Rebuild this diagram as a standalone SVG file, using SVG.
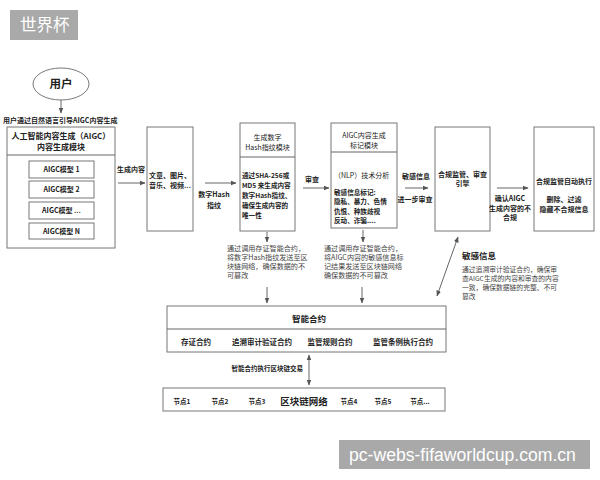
<svg xmlns="http://www.w3.org/2000/svg" width="600" height="480" viewBox="0 0 600 480">
<defs>
<style>
text{font-family:"Noto Sans CJK SC","Liberation Sans",sans-serif;fill:#222}
.b{font-weight:700}
.c{text-anchor:middle}
.s7{font-size:7px}
.s6{font-size:6.6px}
.s8{font-size:8px}
.d{font-size:7.1px;fill:#444}
.d2{font-size:6.8px;fill:#444}
.box{fill:#fff;stroke:#777;stroke-width:1}
.ln{fill:none;stroke:#666;stroke-width:1}
.wm{fill:#a9a9a9}
.wt{fill:#fff;font-family:"Liberation Sans","Noto Sans CJK SC",sans-serif}
</style>
<marker id="ah" viewBox="0 0 10 10" refX="9" refY="5" markerWidth="6" markerHeight="6" orient="auto-start-reverse" markerUnits="userSpaceOnUse">
<path d="M0,1 L10,5 L0,9 z" fill="#555"/>
</marker>
</defs>
<rect width="600" height="480" fill="#fff"/>

<g id="watermark-top">
<rect class="wm" x="10" y="10" width="68" height="30"/>
<text class="wt" x="20" y="31" font-size="16.5" font-family="Noto Sans CJK SC">世界杯</text>
</g>

<g id="user">
<ellipse cx="61" cy="84" rx="28" ry="16" fill="#fff" stroke="#777"/>
<text class="b c" x="61" y="88" font-size="11.5">用户</text>
<text class="b" x="3" y="122.5" font-size="7">用户通过自然语言引导AIGC内容生成</text>
</g>

<g id="aigc-module">
<rect class="box" x="7" y="127" width="108" height="121"/>
<line class="ln" x1="7" y1="155" x2="115" y2="155"/>
<text class="b c s8" x="61" y="139">人工智能内容生成（AIGC）</text>
<text class="b c s8" x="61" y="150">内容生成模块</text>
<rect class="box" x="29" y="161" width="65" height="17"/>
<text class="b c s7" x="61.5" y="172">AIGC模型 1</text>
<rect class="box" x="29" y="181" width="65" height="17"/>
<text class="b c s7" x="61.5" y="192">AIGC模型 2</text>
<rect class="box" x="29" y="202" width="65" height="17"/>
<text class="b c s7" x="61.5" y="213">AIGC模型 ...</text>
<rect class="box" x="29" y="223" width="65" height="16"/>
<text class="b c s7" x="61.5" y="234">AIGC模型 N</text>
</g>

<g id="content">
<rect class="box" x="147" y="127" width="46" height="104"/>
<text class="b c s7" x="170" y="177.5">文章、图片、</text>
<text class="b c s7" x="170" y="187.5">音乐、视频...</text>
</g>

<g id="hash-module">
<rect class="box" x="240" y="123" width="55" height="108"/>
<line class="ln" x1="240" y1="157" x2="295" y2="157"/>
<text class="c s7" x="267.5" y="139.5">生成数字</text>
<text class="c s7" x="267.5" y="149.5">Hash指纹模块</text>
<text class="b s6" x="242" y="177.5">通过SHA-256或</text>
<text class="b s6" x="242" y="187.5">MD5 来生成内容</text>
<text class="b s6" x="242" y="197.5">数字Hash指纹、</text>
<text class="b s6" x="242" y="207.5">确保生成内容的</text>
<text class="b s6" x="242" y="217.5">唯一性</text>
</g>

<g id="mark-module">
<rect class="box" x="331" y="123" width="66" height="105"/>
<line class="ln" x1="331" y1="152" x2="397" y2="152"/>
<text class="c s7" x="364" y="137.5">AIGC内容生成</text>
<text class="c s7" x="364" y="147.5">标记模块</text>
<text class="s7" x="334" y="177.5">（NLP）技术分析</text>
<text class="b s6" x="334" y="194.5">敏感信息标记:</text>
<text class="b s6" x="334" y="204">隐私、暴力、色情</text>
<text class="b s6" x="334" y="213.5">仇恨、种族歧视</text>
<text class="b s6" x="334" y="223">反动、诈骗....</text>
</g>

<g id="compliance-engine">
<rect class="box" x="435" y="127" width="55" height="104"/>
<text class="b c s7" x="462.5" y="176.5">合规监管、审查</text>
<text class="b c s7" x="462.5" y="186">引擎</text>
</g>

<g id="auto-exec">
<rect class="box" x="534" y="127" width="60" height="104"/>
<text class="b c s7" x="564" y="183.5">合规监管自动执行</text>
<text class="b c s7" x="564" y="201.5">删除、过滤</text>
<text class="b c s7" x="564" y="211.5">隐藏不合规信息</text>
</g>

<g id="desc-hash">
<text class="d" x="227" y="250.5">通过调用存证智能合约，</text>
<text class="d" x="227" y="259.5">将数字Hash指纹发送至区</text>
<text class="d" x="227" y="268.5">块链网络，确保数据的不</text>
<text class="d" x="227" y="277.5">可篡改</text>
</g>

<g id="desc-mark">
<text class="d" x="324" y="250.5">通过调用存证智能合约，</text>
<text class="d" x="324" y="259.5">将AIGC内容的敏感信息标</text>
<text class="d" x="324" y="268.5">记结果发送至区块链网络</text>
<text class="d" x="324" y="277.5">确保数据的不可篡改</text>
</g>

<g id="desc-sensitive">
<text class="b" x="462" y="258.5" font-size="8.5">敏感信息</text>
<text class="d2" x="462" y="271.5">通过追溯审计验证合约，确保审</text>
<text class="d2" x="462" y="280.5">查AIGC生成的内容和审查的内容</text>
<text class="d2" x="462" y="289.5">一致，确保数据链的完整、不可</text>
<text class="d2" x="462" y="298.5">篡改</text>
</g>

<g id="smart-contract">
<rect class="box" x="167" y="306" width="279" height="46"/>
<line class="ln" x1="167" y1="329" x2="446" y2="329"/>
<text class="b c" x="309" y="322" font-size="8.5">智能合约</text>
<text class="b c" x="196" y="345" font-size="7.5">存证合约</text>
<text class="b c" x="262" y="345" font-size="7.5">追溯审计验证合约</text>
<text class="b c" x="330" y="345" font-size="7.5">监管规则合约</text>
<text class="b c" x="403" y="345" font-size="7.5">监管条例执行合约</text>
</g>

<g id="blockchain">
<rect class="box" x="163" y="388" width="282" height="23"/>
<text class="b c" x="182" y="403.5" font-size="6.5">节点1</text>
<text class="b c" x="220" y="403.5" font-size="6.5">节点2</text>
<text class="b c" x="257" y="403.5" font-size="6.5">节点3</text>
<text class="b c" x="304" y="404.5" font-size="9.5">区块链网络</text>
<text class="b c" x="349" y="403.5" font-size="6.5">节点4</text>
<text class="b c" x="383" y="403.5" font-size="6.5">节点5</text>
<text class="b c" x="420" y="403.5" font-size="6.5">节点...</text>
</g>

<g id="connectors">
<line class="ln" x1="61" y1="100" x2="61" y2="113" marker-end="url(#ah)"/>
<line class="ln" x1="118" y1="183" x2="145" y2="183" marker-end="url(#ah)"/>
<text class="b c s7" x="131" y="172">生成内容</text>
<line class="ln" x1="205" y1="183" x2="236" y2="183" marker-end="url(#ah)"/>
<text class="b c s7" x="214" y="196.5">数字Hash</text>
<text class="b c s7" x="214" y="207.5">指纹</text>
<line class="ln" x1="303" y1="188" x2="329" y2="188" marker-end="url(#ah)"/>
<text class="b c s7" x="312" y="181.5">审查</text>
<line class="ln" x1="405" y1="188" x2="428" y2="188" marker-end="url(#ah)"/>
<text class="b c s7" x="416" y="178.5">敏感信息</text>
<text class="b c s7" x="415" y="201.5">进一步审查</text>
<line class="ln" x1="497" y1="188" x2="528" y2="188" marker-end="url(#ah)"/>
<text class="b c s7" x="510" y="200.5">确认AIGC</text>
<text class="b c s7" x="510" y="210.5">生成内容的不</text>
<text class="b c s7" x="510" y="220">合规</text>
<line class="ln" x1="267" y1="232" x2="267" y2="242" marker-end="url(#ah)"/>
<line class="ln" x1="363" y1="230" x2="363" y2="242" marker-end="url(#ah)"/>
<line class="ln" x1="267" y1="287" x2="267" y2="303" marker-end="url(#ah)"/>
<line class="ln" x1="362" y1="287" x2="362" y2="303" marker-end="url(#ah)"/>
<line class="ln" x1="437" y1="296" x2="458" y2="237" stroke="#333" marker-start="url(#ah)" marker-end="url(#ah)"/>
<line class="ln" x1="309" y1="355" x2="309" y2="385" stroke="#999" marker-start="url(#ah)" marker-end="url(#ah)"/>
<text class="b" x="303" y="370.5" font-size="6.5" text-anchor="end">智能合约执行区块链交易</text>
</g>

<g id="watermark-bottom">
<rect class="wm" x="339" y="440" width="251" height="29"/>
<text class="wt" x="349" y="460.5" font-size="17.6">pc-webs-fifaworldcup.com.cn</text>
</g>
</svg>
